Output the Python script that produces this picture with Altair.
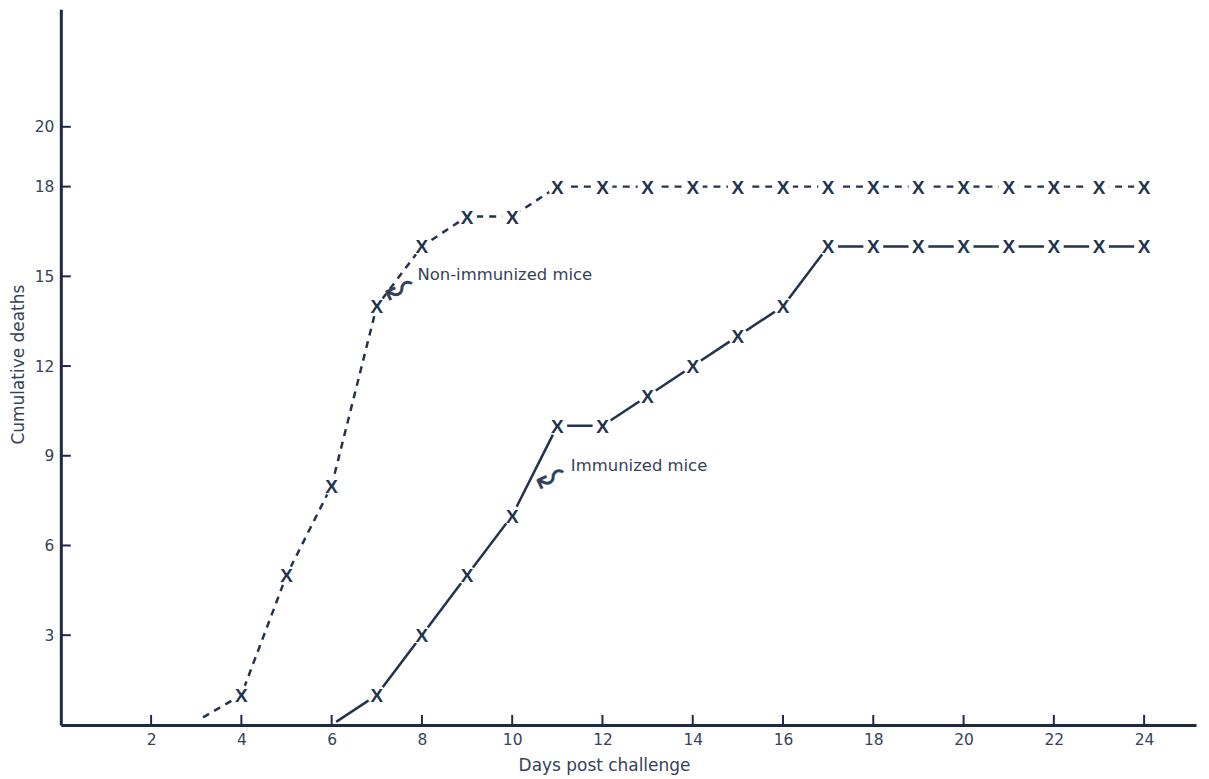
import altair as alt
import pandas as pd

# ---- data ----
non_days = [3.15, 4, 5, 6, 7, 8, 9, 10, 11, 12, 13, 14, 15, 16, 17, 18, 19, 20, 21, 22, 23, 24]
non_deaths = [0.25, 1, 5, 8, 14, 16, 17, 17, 18, 18, 18, 18, 18, 18, 18, 18, 18, 18, 18, 18, 18, 18]
non_marker = [False] + [True] * 21

imm_days = [6.1, 7, 8, 9, 10, 11, 12, 13, 14, 15, 16, 17, 18, 19, 20, 21, 22, 23, 24]
imm_deaths = [0.1, 1, 3, 5, 7, 10, 10, 11, 12, 13, 14, 16, 16, 16, 16, 16, 16, 16, 16]
imm_marker = [False] + [True] * 18

x_ticks = [2, 4, 6, 8, 10, 12, 14, 16, 18, 20, 22, 24]
y_ticks = [3, 6, 9, 12, 15, 18, 20]

label_text = ["Non-immunized mice", "Immunized mice"]
label_day = [7.9, 11.3]
label_deaths = [15.03, 8.67]
arrow_day = [7.5, 10.85]
arrow_deaths = [14.6, 8.3]

AX = "#1c2a48"
LN = "#22334f"
TX = "#34425a"
W, H = 1139, 718

non = pd.DataFrame({"day": non_days, "deaths": non_deaths, "m": non_marker})
imm = pd.DataFrame({"day": imm_days, "deaths": imm_deaths, "m": imm_marker})
pts = pd.concat([non[non.m], imm[imm.m]])
xt = pd.DataFrame({"day": x_ticks})
yt = pd.DataFrame({"deaths": y_ticks})
labs = pd.DataFrame({"day": label_day, "deaths": label_deaths, "t": label_text})
arrs = pd.DataFrame({"day": arrow_day, "deaths": arrow_deaths})

xs = alt.Scale(domain=[0, 25.15], nice=False, zero=False)
ys = alt.Scale(domain=[0, 23.93], nice=False, zero=False)

xenc = alt.X("day:Q", scale=xs, axis=alt.Axis(
    title="Days post challenge", values=x_ticks, grid=False, ticks=False, tickSize=0,
    labelPadding=8, labelFontSize=15.5, labelColor=TX, labelFont="DejaVu Sans",
    domainColor=AX, domainWidth=3,
    titleFont="DejaVu Sans", titleFontSize=17, titleFontWeight="normal", titleColor=TX,
    titleX=545, titleY=46, titleBaseline="alphabetic", titleAlign="center"))
yenc = alt.Y("deaths:Q", scale=ys, axis=alt.Axis(
    title="Cumulative deaths", values=y_ticks, grid=False, ticks=False, tickSize=0,
    labelPadding=7, labelFontSize=15.5, labelColor=TX, labelFont="DejaVu Sans",
    domainColor=AX, domainWidth=3,
    titleFont="DejaVu Sans", titleFontSize=17, titleFontWeight="normal", titleColor=TX,
    titleX=-37, titleY=356, titleBaseline="alphabetic", titleAlign="center"))

line_non = alt.Chart(non).mark_line(color=LN, strokeWidth=2.5, strokeDash=[7, 6]).encode(
    x=xenc, y=yenc)
line_imm = alt.Chart(imm).mark_line(color=LN, strokeWidth=2.5).encode(x="day:Q", y="deaths:Q")
gaps = alt.Chart(pts).mark_point(filled=True, fill="white", stroke="white", strokeWidth=0,
                                 opacity=1, fillOpacity=1, size=400, shape="circle").encode(
    x="day:Q", y="deaths:Q")
marks = alt.Chart(pts).mark_text(text="X", font="Liberation Sans", fontSize=19, fontWeight="bold",
                                 color=LN, baseline="alphabetic", dy=7).encode(x="day:Q", y="deaths:Q")
xtick = alt.Chart(xt).mark_rule(color=AX, strokeWidth=2).encode(
    x="day:Q", y=alt.value(H), y2=alt.value(H - 10))
ytick = alt.Chart(yt).mark_rule(color=AX, strokeWidth=2).encode(
    y="deaths:Q", x=alt.value(0), x2=alt.value(10))
labels = alt.Chart(labs).mark_text(align="left", baseline="middle", font="DejaVu Sans",
                                   fontSize=16.5, color=TX).encode(x="day:Q", y="deaths:Q", text="t:N")
arrows = alt.Chart(arrs).mark_text(text="↜", font="DejaVu Sans", fontSize=36, color=TX,
                                   angle=335, baseline="middle", align="center").encode(x="day:Q", y="deaths:Q")

chart = alt.layer(line_non, line_imm, gaps, marks, xtick, ytick, labels, arrows).properties(
    width=W, height=H,
    background="white",
    autosize=alt.AutoSizeParams(type="none"),
    padding={"left": 53, "top": 0, "right": 5, "bottom": 55},
).configure_view(stroke=None)

chart.save("out.html", embed_options={"renderer": "svg", "actions": False})
